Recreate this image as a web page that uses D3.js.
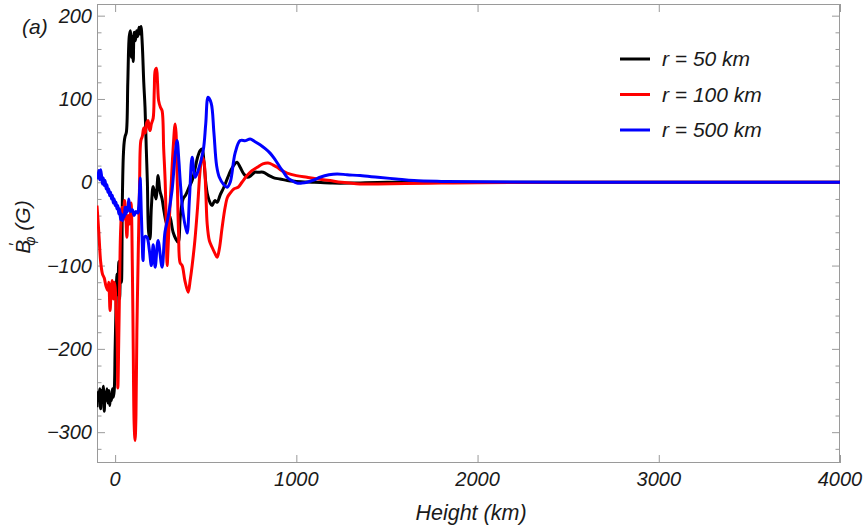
<!DOCTYPE html>
<html>
<head>
<meta charset="utf-8">
<script src="https://cdn.jsdelivr.net/npm/d3@7"></script>
<style>
  html, body { margin: 0; padding: 0; background: #fff; }
  svg text { font-family: "Liberation Sans", Arial, sans-serif; font-style: italic; fill: #1a1a1a; }
</style>
</head>
<body>
<div id="chart"></div>
<script>
// B'_phi vs height for three radii — [height km, field G]
const r50 = [
  [-100,-270],[-95,-252],[-90,-262],[-85,-248],[-80,-272],[-75,-250],[-70,-258],[-65,-245],
  [-60,-275],[-55,-252],[-50,-262],[-45,-248],[-40,-265],[-35,-250],[-30,-268],[-25,-255],
  [-20,-262],[-15,-248],[-10,-258],[-5,-250],[0,-200],[5,-150],[10,-110],[15,-135],[20,-95],
  [25,-140],[30,-100],[35,-120],[40,-20],[45,30],[50,48],[55,55],[62,60],[70,120],[78,175],
  [84,182],[90,150],[95,175],[100,145],[105,180],[112,170],[118,182],[125,175],[132,186],
  [138,178],[143,187],[150,165],[158,120],[165,90],[172,40],[178,0],[185,-60],[192,-68],
  [200,-30],[210,-5],[225,-20],[237,8],[247,-10],[259,-20],[270,-35],[285,-50],[300,-40],
  [320,-60],[335,-68],[348,-72],[360,-40],[375,-20],[390,-15],[410,-5],[425,2],[440,15],
  [455,30],[469,38],[480,40],[490,25],[500,0],[510,-15],[525,-25],[535,-28],[550,-22],
  [563,-24],[580,-15],[600,-6],[620,5],[640,15],[660,22],[673,24],[690,18],[710,10],[730,6],
  [750,8],[770,12],[790,12],[817,12],[850,8],[880,5],[910,4],[950,2],[1000,1],[1100,0],
  [1200,-1],[1300,-1],[1500,0],[2000,0],[3000,0],[4000,0]
];
const r100 = [
  [-100,-28],[-90,-60],[-80,-95],[-70,-110],[-60,-115],[-50,-125],[-40,-130],[-35,-120],
  [-28,-154],[-22,-130],[-17,-118],[-10,-140],[-5,-120],[0,-126],[5,-150],[11,-186],
  [15,-247],[20,-190],[25,-120],[30,-60],[38,-30],[45,-45],[52,-22],[58,-35],[65,-66],
  [72,-40],[80,-50],[88,-25],[95,-100],[100,-200],[105,-290],[110,-310],[115,-280],
  [120,-180],[128,-80],[135,0],[142,50],[150,55],[158,65],[166,59],[175,72],[182,74],
  [188,65],[193,62],[200,70],[210,77],[216,110],[221,134],[228,137],[234,120],[240,98],
  [250,90],[259,86],[268,40],[276,2],[282,-50],[287,-100],[292,-80],[300,-40],[310,0],
  [320,40],[331,70],[336,60],[342,10],[350,-60],[359,-97],[370,-100],[385,-118],[403,-132],
  [414,-118],[425,-100],[440,-70],[455,-30],[469,14],[480,30],[490,25],[500,-10],[508,-50],
  [520,-70],[535,-78],[550,-85],[563,-90],[575,-80],[590,-55],[607,-30],[620,-18],[635,-13],
  [655,-8],[679,-6],[700,0],[728,8],[755,14],[784,18],[815,22],[844,23],[870,21],[894,18],
  [920,14],[949,11],[1000,8],[1059,6],[1120,4],[1186,2],[1250,0],[1350,-2],[1450,-2],
  [1600,-1.5],[1800,-1],[2000,-0.5],[2500,0],[4000,0]
];
const r500 = [
  [-100,12],[-95,5],[-90,14],[-85,3],[-80,15],[-75,8],[-70,-2],[-65,5],[-60,-4],[-55,2],
  [-50,-8],[-45,-3],[-40,-12],[-35,-8],[-30,-16],[-25,-12],[-20,-20],[-15,-16],[-10,-25],
  [-5,-20],[0,-28],[5,-24],[10,-32],[15,-28],[20,-38],[25,-32],[30,-45],[35,-38],[40,-46],
  [45,-40],[50,-42],[55,-30],[60,-38],[65,-30],[70,-35],[75,-20],[85,-35],[95,-33],
  [105,-40],[115,-35],[125,-37],[130,-30],[135,-10],[138,5],[145,-40],[150,-75],[154,-94],
  [165,-65],[176,-66],[188,-80],[200,-100],[210,-75],[221,-102],[237,-70],[259,-102],
  [275,-60],[292,-42],[314,-10],[330,30],[342,50],[352,25],[359,2],[375,-37],[397,-61],
  [410,-20],[425,30],[441,6],[458,14],[486,38],[500,70],[513,102],[530,95],[545,60],
  [560,20],[575,6],[600,-3],[618,-6],[635,0],[662,35],[690,50],[720,50],[745,52],[770,49],
  [800,45],[830,40],[855,35],[880,28],[910,18],[930,12],[949,6],[975,2],[1004,-1],
  [1030,-1],[1059,0],[1100,3],[1131,6],[1180,9],[1225,10],[1280,9],[1352,8],[1450,6],
  [1550,4],[1650,2],[1800,1],[2000,0.5],[2500,0],[4000,0]
];
const seriesNames = ['r = 50 km', 'r = 100 km', 'r = 500 km'];
const xTicks = [0, 1000, 2000, 3000, 4000];
const yTicks = [-300, -200, -100, 0, 100, 200];

const COLORS = ['#000000', '#ff0000', '#0000ff'];
const AXIS = '#9a9a9a';

const W = 865, H = 528;
const plot = { left: 97, right: 840, top: 4, bottom: 463 };

const x = d3.scaleLinear([-100, 4000], [plot.left, plot.right]);
const y = d3.scaleLinear([-337, 214], [plot.bottom, plot.top]);

const svg = d3.select('#chart').append('svg')
  .attr('width', W).attr('height', H);

svg.append('clipPath').attr('id', 'clip')
  .append('rect')
  .attr('x', plot.left).attr('y', plot.top)
  .attr('width', plot.right - plot.left).attr('height', plot.bottom - plot.top);

// frame
svg.append('rect')
  .attr('x', plot.left + 0.5).attr('y', plot.top + 0.5)
  .attr('width', plot.right - plot.left - 1).attr('height', plot.bottom - plot.top - 1)
  .attr('fill', 'none').attr('stroke', AXIS).attr('stroke-width', 1);

// ticks via d3 axes, drawn inward on all four sides
const yMinor = d3.range(-320, 214, 20).filter(v => !yTicks.includes(v));
function styleAxis(g) {
  g.select('.domain').remove();
  g.selectAll('line').attr('stroke', AXIS);
}
svg.append('g').attr('transform', `translate(0,${plot.bottom})`)
  .call(d3.axisTop(x).tickValues(xTicks).tickSize(8).tickFormat(''))
  .call(styleAxis);
svg.append('g').attr('transform', `translate(0,${plot.top})`)
  .call(d3.axisBottom(x).tickValues(xTicks).tickSize(8).tickFormat(''))
  .call(styleAxis);
svg.append('g').attr('transform', `translate(${plot.left},0)`)
  .call(d3.axisRight(y).tickValues(yTicks).tickSize(8).tickFormat(''))
  .call(styleAxis);
svg.append('g').attr('transform', `translate(${plot.left},0)`)
  .call(d3.axisRight(y).tickValues(yMinor).tickSize(4.5).tickFormat(''))
  .call(styleAxis);
svg.append('g').attr('transform', `translate(${plot.right},0)`)
  .call(d3.axisLeft(y).tickValues(yTicks).tickSize(8).tickFormat(''))
  .call(styleAxis);
svg.append('g').attr('transform', `translate(${plot.right},0)`)
  .call(d3.axisLeft(y).tickValues(yMinor).tickSize(4.5).tickFormat(''))
  .call(styleAxis);

// tick labels
svg.append('g').selectAll('text').data(xTicks).join('text')
  .attr('x', d => x(d)).attr('y', 486)
  .attr('text-anchor', 'middle').attr('font-size', 20)
  .text(d => d);
svg.append('g').selectAll('text').data(yTicks).join('text')
  .attr('x', 92).attr('y', d => y(d) + 7)
  .attr('text-anchor', 'end').attr('font-size', 20)
  .text(d => d < 0 ? '\u2212' + Math.abs(d) : d);

// axis titles
svg.append('text')
  .attr('x', 471).attr('y', 520)
  .attr('text-anchor', 'middle').attr('font-size', 21.5)
  .text('Height (km)');

// B' with phi subscript, rotated
const yl = svg.append('text')
  .attr('transform', 'translate(30,227) rotate(-90)')
  .attr('text-anchor', 'middle').attr('font-size', 21);
yl.append('tspan').text('B');
yl.append('tspan').attr('font-size', 16).attr('font-style', 'normal')
  .attr('dx', -6).attr('dy', -9).text('\u2032');
yl.append('tspan').attr('font-size', 14).attr('dx', -3).attr('dy', 14).text('\u03c6');
yl.append('tspan').attr('dy', -5).text(' (G)');

svg.append('text')
  .attr('x', 22).attr('y', 34).attr('font-size', 21)
  .text('(a)');

// curves
const line = d3.line()
  .x(d => x(d[0])).y(d => y(d[1]))
  .curve(d3.curveCatmullRom.alpha(0.5));

const gLines = svg.append('g').attr('clip-path', 'url(#clip)');
[r50, r100, r500].forEach((s, i) => {
  gLines.append('path')
    .datum(s)
    .attr('fill', 'none')
    .attr('stroke', COLORS[i])
    .attr('stroke-width', 3)
    .attr('stroke-linejoin', 'round')
    .attr('d', line);
});

// legend
const legend = svg.append('g');
seriesNames.forEach((name, i) => {
  const ly = 59 + i * 35.5;
  legend.append('line')
    .attr('x1', 620).attr('x2', 650).attr('y1', ly).attr('y2', ly)
    .attr('stroke', COLORS[i]).attr('stroke-width', 3);
  legend.append('text')
    .attr('x', 662).attr('y', ly + 7).attr('font-size', 21)
    .text(name);
});
</script>
</body>
</html>
